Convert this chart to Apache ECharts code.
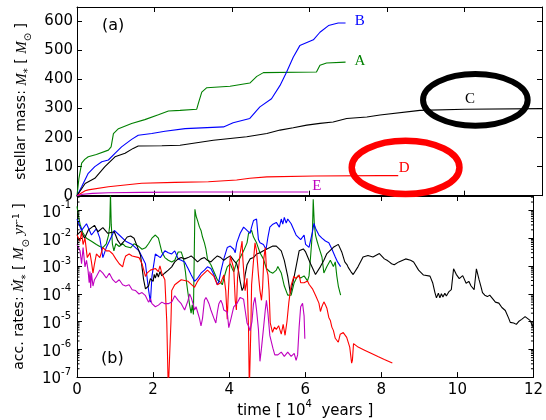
<!DOCTYPE html>
<html>
<head>
<meta charset="utf-8">
<script src="https://cdn.jsdelivr.net/npm/echarts@6/dist/echarts.min.js"></script>
<style>
  html, body { margin: 0; padding: 0; background: #fff; }
  #chart { width: 546px; height: 420px; }
</style>
</head>
<body>
<div id="chart"></div>
<script>
// Time is in units of 10^4 years; masses in solar masses; rates in Msun/yr.
const timeTicks = [0, 2, 4, 6, 8, 10, 12];
const massTicks = [0, 100, 200, 300, 400, 500, 600];
const rateDecades = [-7, -6, -5, -4, -3, -2, -1];

// (a) stellar mass of each protostar vs time  [t, M]
const massA = [[0,0],[0.05,60],[0.12,112],[0.2,125],[0.29,134],[0.5,142],[0.81,157],[0.88,168],[0.94,214],[1.07,231],[1.41,249],[1.75,262],[2.1,279],[2.36,292],[2.66,294],[3.09,298],[3.13,317],[3.22,357],[3.35,372],[3.95,377],[4.46,388],[4.64,411],[4.81,424],[6.18,426],[6.27,449],[6.44,457],[6.93,460]];
const massB = [[0,0],[0.12,31],[0.29,77],[0.46,100],[0.64,117],[0.81,123],[0.98,146],[1.15,168],[1.41,194],[1.58,208],[1.93,214],[2.27,222],[2.79,231],[3.78,237],[4.03,251],[4.46,266],[4.64,294],[4.72,306],[5.02,334],[5.24,380],[5.41,426],[5.58,477],[5.75,517],[6.1,537],[6.27,563],[6.49,586],[6.74,595],[6.93,595]];
const massC = [[0,0],[0.21,42],[0.46,60],[0.72,100],[0.98,134],[1.24,146],[1.45,163],[1.58,171],[2.19,172],[2.66,174],[3.52,191],[4.38,203],[4.9,214],[5.24,226],[5.58,234],[5.93,243],[6.27,249],[6.61,254],[6.96,266],[7.48,271],[7.82,278],[8.85,294],[10.0,298],[12.0,300]];
const massD = [[0,0],[0.21,17],[0.29,20],[0.81,31],[1.67,43],[2.53,46],[3.39,48],[4.12,54],[4.46,60],[4.9,65],[6.14,68],[7.82,69],[8.29,69]];
const massE = [[0,0],[0.15,5],[0.4,8],[0.81,10],[1.67,11.5],[3.0,12.5],[5.97,12.7]];

// (b) accretion rates vs time  [t, dM/dt]
const rateA = [[0,1.4e-1],[0.04,6.3e-2],[0.08,3.2e-2],[0.15,1.6e-2],[0.25,1.0e-2],[0.38,7.8e-3],[0.51,5.9e-3],[0.6,5.0e-3],[0.68,4.6e-3],[0.77,6.3e-3],[0.83,1.3e-2],[0.86,2.8e-2],[0.88,4.0e-1],[0.9,3.2e-2],[0.93,6.3e-3],[0.97,3.5e-3],[1.02,6.3e-3],[1.11,5.0e-3],[1.2,6.3e-3],[1.28,5.0e-3],[1.41,4.5e-3],[1.5,6.3e-3],[1.63,5.0e-3],[1.71,4.0e-3],[1.8,4.5e-3],[1.88,6.3e-3],[1.97,1.0e-2],[2.06,1.3e-2],[2.14,1.0e-2],[2.23,3.2e-3],[2.31,2.0e-3],[2.4,1.6e-3],[2.49,1.4e-3],[2.57,1.6e-3],[2.66,3.2e-3],[2.7,3.5e-3],[2.74,3.2e-3],[2.8,1.8e-3],[2.85,6.3e-4],[2.88,2.5e-4],[2.92,1.0e-4],[2.96,4.0e-5],[3.0,2.0e-5],[3.03,4.0e-5],[3.06,1.8e-5],[3.1,1.1e-1],[3.13,6.3e-2],[3.17,4.3e-2],[3.22,2.5e-2],[3.26,1.9e-2],[3.3,1.1e-2],[3.35,6.8e-3],[3.39,4.0e-3],[3.43,1.8e-3],[3.47,1.4e-3],[3.52,1.1e-3],[3.6,6.2e-4],[3.69,3.2e-4],[3.78,2.5e-4],[3.82,2.1e-4],[3.86,3.6e-4],[3.91,6.2e-4],[3.95,9.3e-4],[4.03,1.2e-3],[4.08,8.1e-4],[4.12,6.2e-4],[4.2,1.4e-3],[4.29,2.0e-3],[4.38,3.5e-3],[4.47,6.8e-3],[4.51,1.5e-2],[4.59,1.9e-2],[4.64,1.1e-2],[4.72,6.8e-3],[4.81,3.0e-3],[4.9,1.8e-3],[4.98,8.1e-4],[5.07,6.2e-4],[5.15,5.5e-4],[5.24,7.1e-4],[5.28,9.5e-4],[5.37,5.6e-4],[5.45,1.9e-4],[5.54,8.9e-5],[5.63,8.9e-5],[5.71,2.5e-4],[5.8,4.4e-4],[5.88,3.7e-4],[5.97,4.4e-4],[6.06,2.9e-4],[6.1,4.4e-4],[6.14,2.1e-3],[6.19,1.7e-2],[6.21,2.5e-1],[6.24,3.0e-2],[6.27,1.3e-2],[6.31,7.9e-3],[6.36,4.7e-3],[6.4,4.1e-3],[6.44,2.1e-3],[6.49,5.6e-4],[6.53,6.3e-4],[6.57,9.5e-4],[6.66,1.6e-3],[6.7,1.8e-3],[6.74,9.5e-4],[6.79,1.4e-3],[6.83,4.4e-4],[6.87,1.9e-4],[6.93,8.9e-5]];
const rateB = [[0,4.9e-2],[0.12,1.9e-2],[0.25,3.3e-2],[0.38,1.3e-2],[0.51,2.2e-2],[0.6,1.0e-2],[0.68,2.0e-3],[0.77,4.6e-3],[0.85,7.8e-3],[0.98,1.9e-2],[1.11,1.3e-2],[1.28,7.8e-3],[1.45,5.9e-3],[1.63,3.5e-3],[1.8,1.2e-3],[1.88,1.4e-4],[1.93,5.0e-5],[1.97,4.2e-4],[2.06,2.7e-3],[2.19,2.0e-3],[2.31,3.5e-3],[2.4,3.0e-3],[2.49,2.7e-3],[2.57,3.5e-3],[2.66,1.8e-3],[2.74,1.6e-3],[2.83,1.4e-3],[2.92,8.1e-4],[3.0,4.8e-4],[3.09,2.8e-4],[3.13,2.5e-4],[3.17,3.6e-4],[3.26,5.5e-4],[3.35,7.1e-4],[3.43,9.3e-4],[3.52,8.1e-4],[3.6,4.8e-4],[3.69,2.1e-4],[3.73,2.8e-4],[3.78,6.2e-4],[3.86,1.8e-3],[3.95,4.6e-3],[4.03,5.2e-3],[4.12,4.0e-3],[4.16,3.0e-3],[4.2,6.8e-3],[4.29,1.5e-2],[4.38,2.5e-2],[4.47,1.9e-2],[4.55,1.5e-2],[4.59,2.5e-2],[4.64,4.3e-2],[4.72,4.9e-2],[4.77,8.9e-3],[4.81,6.8e-3],[4.9,5.9e-3],[4.97,4.0e-3],[5.02,1.1e-2],[5.07,2.5e-2],[5.11,2.2e-2],[5.15,3.2e-2],[5.2,3.3e-2],[5.24,3.7e-2],[5.28,3.8e-2],[5.32,2.5e-2],[5.37,4.9e-2],[5.41,3.2e-2],[5.45,5.6e-2],[5.5,3.5e-2],[5.54,4.9e-2],[5.63,3.3e-2],[5.76,1.3e-2],[5.88,8.9e-3],[5.97,1.3e-2],[6.01,6.0e-3],[6.1,4.7e-3],[6.19,1.7e-2],[6.23,3.4e-2],[6.27,2.3e-2],[6.36,1.3e-2],[6.44,1.0e-2],[6.53,7.9e-3],[6.62,6.9e-3],[6.7,4.1e-3],[6.79,2.1e-3],[6.85,1.4e-3],[6.93,9.5e-4]];
const rateC = [[0,1.3e-2],[0.1,1.8e-2],[0.2,1.0e-2],[0.3,2.0e-2],[0.46,2.9e-2],[0.55,1.7e-2],[0.68,2.4e-2],[0.81,1.5e-2],[0.98,1.7e-2],[1.07,8.3e-3],[1.15,5.8e-3],[1.24,7.9e-3],[1.32,1.1e-2],[1.41,1.2e-2],[1.5,1.0e-2],[1.58,5.2e-3],[1.67,2.4e-3],[1.75,3.3e-4],[1.8,1.5e-4],[1.88,1.9e-4],[1.93,3.5e-4],[1.97,4.1e-4],[2.0,2.8e-4],[2.03,5.0e-4],[2.06,3.7e-4],[2.1,5.6e-4],[2.14,4.0e-4],[2.18,6.3e-4],[2.23,4.4e-4],[2.31,5.6e-4],[2.4,7.1e-4],[2.49,9.3e-4],[2.57,1.4e-3],[2.66,1.8e-3],[2.74,2.0e-3],[2.83,1.8e-3],[2.92,2.0e-3],[3.0,2.3e-3],[3.09,1.8e-3],[3.17,1.4e-3],[3.26,1.8e-3],[3.35,2.0e-3],[3.43,1.6e-3],[3.52,1.4e-3],[3.6,1.8e-3],[3.69,2.3e-3],[3.78,2.0e-3],[3.86,1.6e-3],[3.91,1.4e-3],[3.95,2.0e-3],[4.03,2.3e-3],[4.12,1.6e-3],[4.2,1.2e-3],[4.25,6.2e-4],[4.29,2.8e-4],[4.34,1.3e-4],[4.38,1.7e-4],[4.42,4.8e-4],[4.47,1.1e-3],[4.55,1.8e-3],[4.64,2.0e-3],[4.72,2.7e-3],[4.81,3.0e-3],[4.9,3.5e-3],[4.98,4.0e-3],[5.07,4.6e-3],[5.15,5.2e-3],[5.24,5.2e-3],[5.37,3.5e-3],[5.45,1.6e-3],[5.54,4.2e-4],[5.61,1.0e-4],[5.71,4.2e-4],[5.84,3.5e-3],[5.95,4.1e-3],[6.01,3.2e-3],[6.14,1.2e-3],[6.27,4.9e-4],[6.4,9.5e-4],[6.49,1.6e-3],[6.57,2.8e-3],[6.74,4.7e-3],[6.87,6.0e-3],[6.96,3.2e-3],[7.04,1.4e-3],[7.1,1.1e-3],[7.13,8.9e-4],[7.17,8.3e-4],[7.2,6.3e-4],[7.26,4.9e-4],[7.39,9.5e-4],[7.52,2.1e-3],[7.65,2.4e-3],[7.78,2.1e-3],[7.95,2.8e-3],[8.08,1.8e-3],[8.15,1.6e-3],[8.21,1.4e-3],[8.27,1.2e-3],[8.34,1.1e-3],[8.46,1.4e-3],[8.64,1.8e-3],[8.77,1.6e-3],[8.85,1.4e-3],[8.98,7.1e-4],[9.11,4.7e-4],[9.28,4.3e-4],[9.35,2.5e-4],[9.41,1.1e-4],[9.45,7.1e-5],[9.5,1.05e-4],[9.54,7.1e-5],[9.58,1.0e-4],[9.62,7.6e-5],[9.67,1.05e-4],[9.71,8.3e-5],[9.78,1.2e-4],[9.84,1.4e-4],[9.9,7.9e-4],[9.97,5.0e-4],[10.05,3.5e-4],[10.14,4.5e-4],[10.23,2.4e-4],[10.3,2.8e-4],[10.36,1.9e-4],[10.44,1.4e-4],[10.5,7.9e-4],[10.57,3.2e-4],[10.62,1.8e-4],[10.66,1.1e-4],[10.72,8.9e-5],[10.79,7.9e-5],[10.85,8.9e-5],[10.92,6.8e-5],[11.0,5.0e-5],[11.05,5.6e-5],[11.09,4.6e-5],[11.17,3.2e-5],[11.22,3.5e-5],[11.26,2.5e-5],[11.35,1.3e-5],[11.39,9.3e-6],[11.44,7.9e-6],[11.48,8.9e-6],[11.55,7.9e-6],[11.61,1.0e-5],[11.69,1.2e-5],[11.78,1.5e-5],[11.83,1.7e-5],[11.91,1.1e-5],[12.0,6.0e-6]];
const rateD = [[0,1.3e-2],[0.08,7.8e-3],[0.12,1.7e-2],[0.16,5.9e-3],[0.21,1.0e-2],[0.27,2.0e-3],[0.34,3.0e-3],[0.38,1.4e-3],[0.42,5.5e-4],[0.46,1.2e-3],[0.51,2.7e-3],[0.6,2.0e-3],[0.68,4.6e-3],[0.77,3.5e-3],[0.85,3.5e-3],[0.94,2.7e-3],[1.02,1.8e-3],[1.11,1.2e-3],[1.2,9.3e-4],[1.24,1.6e-3],[1.28,2.3e-3],[1.37,2.7e-3],[1.45,2.3e-3],[1.63,2.0e-3],[1.71,1.2e-3],[1.8,4.2e-4],[1.84,5.5e-4],[1.93,7.1e-4],[2.06,8.1e-4],[2.14,6.3e-4],[2.18,1.0e-3],[2.23,5.5e-4],[2.31,3.2e-4],[2.36,1.0e-5],[2.4,3.2e-8],[2.44,3.2e-8],[2.47,1.0e-5],[2.49,1.3e-4],[2.57,2.1e-4],[2.74,3.2e-4],[2.92,2.8e-4],[3.09,1.7e-4],[3.17,2.8e-4],[3.26,4.2e-4],[3.43,7.1e-4],[3.6,4.2e-4],[3.69,2.1e-4],[3.78,2.5e-4],[3.86,4.8e-4],[3.91,1.3e-4],[3.95,1.2e-5],[3.97,5.8e-5],[4.01,8.1e-4],[4.03,2.3e-3],[4.08,2.7e-3],[4.12,8.1e-4],[4.16,5.8e-5],[4.19,2.6e-5],[4.22,3.6e-4],[4.29,3.0e-3],[4.34,7.8e-3],[4.36,1.8e-3],[4.4,2.8e-4],[4.42,1.3e-4],[4.47,3.6e-4],[4.51,5.2e-6],[4.53,3.2e-8],[4.55,3.2e-8],[4.57,5.2e-6],[4.59,2.1e-4],[4.65,2.3e-3],[4.68,6.8e-3],[4.72,3.5e-3],[4.77,4.8e-4],[4.81,1.3e-4],[4.85,5.8e-5],[4.88,1.7e-4],[4.91,1.8e-3],[4.95,4.6e-3],[4.98,8.1e-4],[5.02,4.8e-4],[5.05,1.3e-4],[5.08,8.9e-6],[5.14,4.1e-6],[5.19,6.3e-6],[5.24,5.2e-6],[5.3,7.1e-6],[5.37,3.5e-6],[5.42,7.9e-6],[5.47,3.2e-6],[5.52,1.0e-5],[5.57,5.0e-5],[5.63,2.0e-4],[5.7,4.2e-4],[5.76,3.5e-4],[5.84,4.8e-4],[5.88,2.5e-4],[5.97,2.5e-4],[6.06,2.9e-4],[6.1,2.2e-4],[6.19,1.5e-4],[6.27,8.9e-5],[6.36,4.6e-5],[6.4,2.3e-5],[6.44,3.5e-5],[6.49,5.1e-5],[6.53,4.0e-5],[6.57,3.0e-5],[6.62,1.4e-5],[6.66,1.1e-5],[6.7,6.3e-6],[6.74,4.8e-6],[6.79,2.5e-6],[6.83,2.8e-6],[6.87,1.8e-6],[6.92,3.5e-6],[7.0,4.0e-6],[7.09,2.7e-6],[7.13,2.3e-6],[7.17,1.2e-6],[7.22,3.2e-7],[7.24,4.0e-7],[7.27,1.6e-6],[7.39,1.2e-6],[7.56,9.3e-7],[7.73,7.2e-7],[7.91,5.5e-7],[8.08,4.3e-7],[8.29,3.2e-7]];
const rateE = [[0,5.9e-3],[0.08,3.5e-3],[0.12,1.2e-3],[0.16,4.6e-3],[0.21,9.3e-4],[0.25,1.6e-3],[0.29,7.1e-4],[0.32,2.5e-4],[0.34,6.3e-4],[0.36,1.6e-4],[0.38,5.5e-4],[0.42,1.9e-4],[0.46,3.2e-4],[0.51,4.2e-4],[0.6,7.1e-4],[0.68,5.5e-4],[0.77,3.7e-4],[0.85,5.5e-4],[0.94,3.2e-4],[1.02,2.5e-4],[1.11,3.2e-4],[1.2,2.1e-4],[1.28,1.9e-4],[1.37,2.1e-4],[1.45,1.4e-4],[1.54,1.3e-4],[1.63,9.8e-5],[1.71,1.1e-4],[1.8,8.5e-5],[1.88,5.0e-5],[1.93,6.6e-5],[1.97,4.4e-5],[2.06,3.4e-5],[2.14,3.9e-5],[2.23,5.0e-5],[2.31,4.4e-5],[2.4,4.4e-5],[2.49,5.0e-5],[2.57,8.5e-5],[2.66,5.8e-5],[2.74,4.4e-5],[2.83,2.6e-5],[2.92,5.8e-5],[2.96,9.8e-5],[3.0,7.4e-5],[3.05,4.4e-5],[3.09,2.6e-5],[3.13,3.4e-5],[3.17,2.2e-5],[3.22,1.3e-5],[3.26,6.9e-6],[3.3,1.3e-5],[3.35,5.8e-5],[3.39,7.4e-5],[3.43,5.8e-5],[3.47,4.4e-5],[3.52,2.6e-5],[3.6,1.3e-5],[3.65,8.9e-6],[3.69,2.2e-5],[3.73,4.4e-5],[3.78,5.8e-5],[3.82,4.4e-5],[3.86,2.6e-5],[3.95,2.2e-5],[3.99,6.0e-6],[4.01,5.2e-6],[4.05,1.3e-5],[4.12,3.4e-5],[4.2,4.4e-5],[4.29,7.4e-5],[4.34,8.5e-5],[4.38,6.3e-5],[4.42,2.6e-5],[4.47,8.9e-6],[4.51,6.9e-6],[4.55,4.6e-6],[4.6,1.0e-5],[4.64,4.4e-5],[4.68,7.4e-5],[4.72,2.6e-5],[4.77,5.2e-6],[4.81,3.7e-7],[4.85,1.1e-6],[4.9,5.2e-6],[4.95,2.6e-5],[4.98,5.8e-5],[5.02,2.0e-5],[5.07,3.1e-6],[5.15,1.1e-6],[5.2,6.3e-7],[5.24,7.1e-7],[5.28,6.3e-7],[5.37,7.9e-7],[5.45,5.6e-7],[5.54,7.9e-7],[5.63,5.6e-7],[5.71,7.1e-7],[5.76,4.0e-7],[5.8,6.3e-7],[5.84,6.3e-6],[5.88,3.4e-5],[5.93,4.5e-5],[5.97,1.6e-5],[5.99,2.4e-6]];

// Axis ranges
const tRange = [0, 12];
const massRange = [0, 650];
const rateRange = [1e-7, 0.33];

const colors = { A: '#008000', B: '#0000ff', C: '#000000', D: '#ff0000', E: '#bf00bf' };

// Name tags beside each track in panel (a), in data coordinates
const tags = [
  { name: 'B', t: 7.30, m: 603 },
  { name: 'A', t: 7.30, m: 463 },
  { name: 'C', t: 10.14, m: 332 },
  { name: 'D', t: 8.44, m: 96 },
  { name: 'E', t: 6.19, m: 33 }
];
// Highlight rings drawn around C and D in panel (a), in data coordinates
const rings = [
  { t: 10.28, m: 330, dt: 1.35, dm: 89, color: '#000000', width: 6 },
  { t: 8.48, m: 97.5, dt: 1.39, dm: 92, color: '#ff0000', width: 6.5 }
];

const FONT = 'DejaVu Sans';
const SERIF = 'Liberation Serif';

const lineStyleAxis = { color: '#000', width: 1 };
function frameX(gridIndex, position, showLabels) {
  return {
    type: 'value', gridIndex, position, min: tRange[0], max: tRange[1], interval: 2,
    axisLine: { show: true, onZero: false, lineStyle: lineStyleAxis },
    axisTick: { show: true, inside: true, length: 5, lineStyle: lineStyleAxis },
    splitLine: { show: false },
    axisLabel: { show: showLabels, color: '#000', fontFamily: FONT, fontSize: 15, margin: 6 }
  };
}

const supRich = {
  b: { fontFamily: FONT, fontSize: 15, color: '#000', lineHeight: 20, verticalAlign: 'bottom' },
  s: { fontFamily: FONT, fontSize: 10, color: '#000', lineHeight: 20, verticalAlign: 'top' }
};

const titleRich = {
  n: { fontFamily: FONT, fontSize: 14, color: '#000', lineHeight: 19, verticalAlign: 'top' },
  i: { fontFamily: SERIF, fontStyle: 'italic', fontSize: 15, color: '#000', lineHeight: 19, verticalAlign: 'top' },
  sub: { fontFamily: FONT, fontSize: 10, color: '#000', lineHeight: 19, verticalAlign: 'bottom' },
  sup: { fontFamily: FONT, fontSize: 9, color: '#000', lineHeight: 19, verticalAlign: 'top' }
};

const xTitleRich = {
  n: { fontFamily: FONT, fontSize: 15, color: '#000', lineHeight: 20, verticalAlign: 'bottom' },
  sup: { fontFamily: FONT, fontSize: 10, color: '#000', lineHeight: 20, verticalAlign: 'top' }
};

function lineSeries(name, data, xi, yi, color) {
  return {
    name, type: 'line', data, xAxisIndex: xi, yAxisIndex: yi,
    showSymbol: false, symbol: 'none', smooth: false, clip: true,
    lineStyle: { color, width: 1.1 }, itemStyle: { color }, z: 3
  };
}

// log minor tick positions (2..9 x 10^n) for panel (b)
const minorRates = [];
for (const e of rateDecades) {
  for (let k = 2; k <= 9; k++) {
    const v = k * Math.pow(10, e);
    if (v < rateRange[1]) minorRates.push([0, v]);
  }
}

const chart = echarts.init(document.getElementById('chart'), null, { renderer: 'canvas' });

const option = {
  animation: false,
  backgroundColor: '#fff',
  grid: [
    { left: 77, right: 4, top: 7, height: 188.7 },
    { left: 77, right: 4, top: 196, height: 189 }
  ],
  xAxis: [
    frameX(0, 'bottom', false),
    frameX(0, 'top', false),
    Object.assign(frameX(1, 'bottom', true), {
      name: '{n|time [ 10}{sup|4}{n|  years ]}',
      nameLocation: 'middle', nameGap: 19,
      nameTextStyle: { rich: xTitleRich }
    }),
    frameX(1, 'top', false)
  ],
  yAxis: [
    {
      type: 'value', gridIndex: 0, position: 'left', min: massRange[0], max: massRange[1], interval: 100,
      axisLine: { show: true, onZero: false, lineStyle: lineStyleAxis },
      axisTick: { show: true, inside: true, length: 5, lineStyle: lineStyleAxis },
      splitLine: { show: false },
      axisLabel: { color: '#000', fontFamily: FONT, fontSize: 15, margin: 4, showMaxLabel: false },
      name: '{n|stellar mass: }{i|M}{sub|*}{n| [ }{i|M}{sub|⊙}{n| ]}',
      nameLocation: 'middle', nameRotate: 90, nameGap: 37,
      nameTextStyle: { rich: titleRich }
    },
    {
      type: 'value', gridIndex: 0, position: 'right', min: massRange[0], max: massRange[1], interval: 100,
      axisLine: { show: true, onZero: false, lineStyle: lineStyleAxis },
      axisTick: { show: true, inside: true, length: 5, lineStyle: lineStyleAxis },
      splitLine: { show: false }, axisLabel: { show: false }
    },
    {
      type: 'log', logBase: 10, gridIndex: 1, position: 'left', min: rateRange[0], max: rateRange[1], interval: 1,
      axisLine: { show: true, onZero: false, lineStyle: lineStyleAxis },
      axisTick: { show: true, inside: true, length: 5, lineStyle: lineStyleAxis },
      splitLine: { show: false },
      axisLabel: {
        margin: 6, showMaxLabel: false,
        formatter: v => '{b|10}{s|' + Math.round(Math.log10(v)) + '}',
        rich: supRich
      },
      name: '{n|acc. rates: }{i|Ṁ}{sub|*}{n| [ }{i|M}{sub|⊙}{n| }{i|yr}{sup|-1}{n| ]}',
      nameLocation: 'middle', nameRotate: 90, nameGap: 43,
      nameTextStyle: { rich: titleRich }
    },
    {
      type: 'log', logBase: 10, gridIndex: 1, position: 'right', min: rateRange[0], max: rateRange[1], interval: 1,
      axisLine: { show: true, onZero: false, lineStyle: lineStyleAxis },
      axisTick: { show: true, inside: true, length: 5, lineStyle: lineStyleAxis },
      splitLine: { show: false }, axisLabel: { show: false }
    }
  ],
  series: [
    lineSeries('A', massA, 0, 0, colors.A),
    lineSeries('B', massB, 0, 0, colors.B),
    lineSeries('C', massC, 0, 0, colors.C),
    lineSeries('D', massD, 0, 0, colors.D),
    lineSeries('E', massE, 0, 0, colors.E),
    lineSeries('A', rateA, 2, 2, colors.A),
    lineSeries('B', rateB, 2, 2, colors.B),
    lineSeries('C', rateC, 2, 2, colors.C),
    lineSeries('D', rateD, 2, 2, colors.D),
    lineSeries('E', rateE, 2, 2, colors.E),
    {
      type: 'custom', xAxisIndex: 2, yAxisIndex: 2, silent: true, clip: false, z: 4,
      data: minorRates, encode: { x: 0, y: 1 },
      renderItem: (params, api) => {
        const v = api.value(1);
        const l = api.coord([tRange[0], v]);
        const r = api.coord([tRange[1], v]);
        return {
          type: 'group',
          children: [
            { type: 'line', shape: { x1: l[0], y1: l[1], x2: l[0] + 2.5, y2: l[1] }, style: { stroke: '#000', lineWidth: 1 } },
            { type: 'line', shape: { x1: r[0] - 2.5, y1: r[1], x2: r[0], y2: r[1] }, style: { stroke: '#000', lineWidth: 1 } }
          ]
        };
      }
    }
  ]
};

chart.setOption(option);

// Tags, panel letters and rings are placed through the panel (a)/(b) scales.
const toA = p => chart.convertToPixel({ xAxisIndex: 0, yAxisIndex: 0 }, p);
const toB = p => chart.convertToPixel({ xAxisIndex: 2, yAxisIndex: 2 }, p);
const graphics = [];
tags.forEach(g => {
  const p = toA([g.t, g.m]);
  graphics.push({ type: 'text', z: 90, x: p[0], y: p[1],
    style: { text: g.name, fontFamily: SERIF, fontSize: 15, fill: colors[g.name], align: 'center', verticalAlign: 'middle' } });
});
rings.forEach(r => {
  const c = toA([r.t, r.m]);
  const e = toA([r.t + r.dt, r.m + r.dm]);
  graphics.push({
    type: 'ellipse', z: 100,
    shape: { cx: c[0], cy: c[1], rx: e[0] - c[0], ry: c[1] - e[1] },
    style: { fill: 'none', stroke: r.color, lineWidth: r.width }
  });
});
const pa = toA([0.93, 585]);
const pb = toB([0.93, 4.7e-7]);
graphics.push({ type: 'text', z: 100, x: pa[0], y: pa[1],
  style: { text: '(a)', fontFamily: FONT, fontSize: 16, fill: '#000', align: 'center', verticalAlign: 'middle' } });
graphics.push({ type: 'text', z: 100, x: pb[0], y: pb[1],
  style: { text: '(b)', fontFamily: FONT, fontSize: 16, fill: '#000', align: 'center', verticalAlign: 'middle' } });
chart.setOption({ graphic: graphics });
</script>
</body>
</html>
